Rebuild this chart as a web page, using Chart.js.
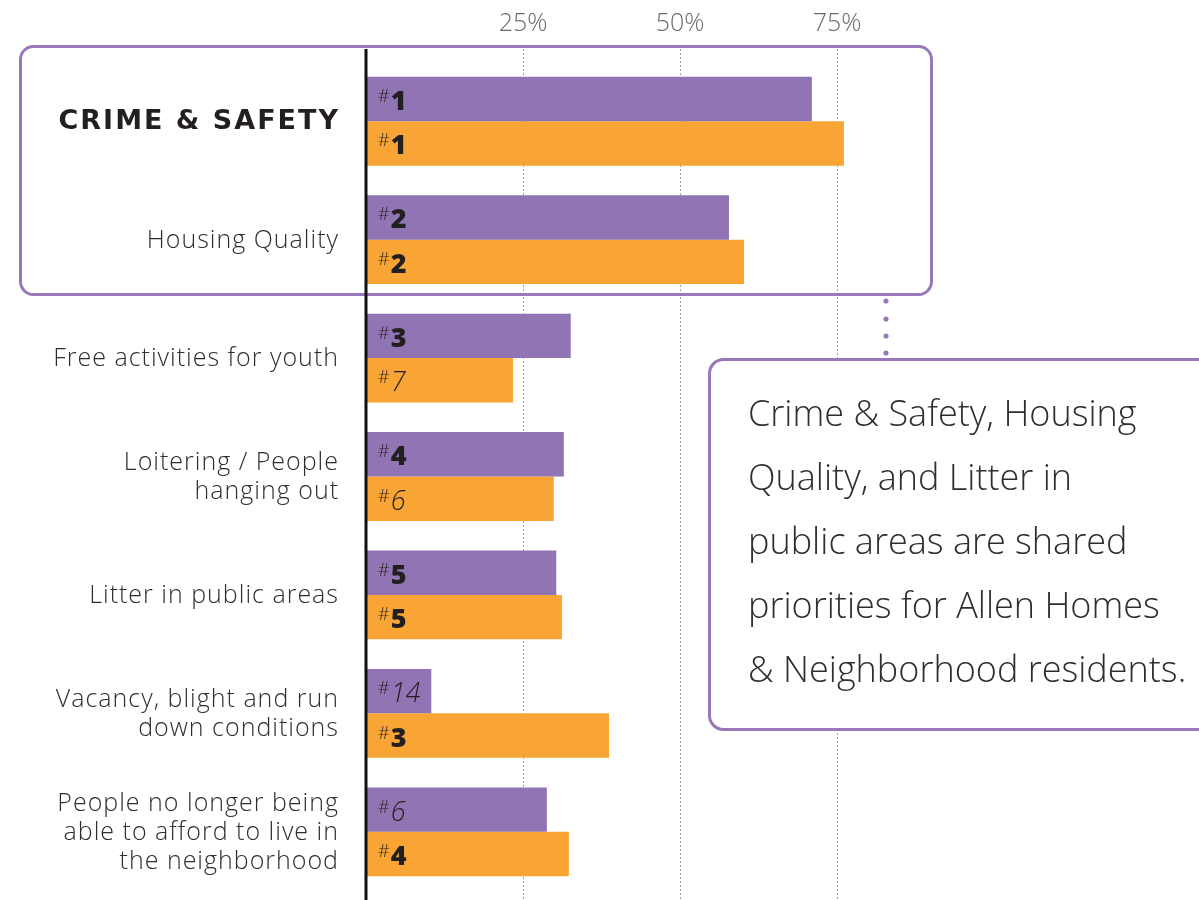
<!DOCTYPE html>
<html>
<head>
<meta charset="utf-8">
<script src="https://cdn.jsdelivr.net/npm/chart.js@4"></script>
<style>
  body { margin: 0; background: #fff; }
  #wrap { width: 1199px; height: 900px; }
</style>
</head>
<body>
<div id="wrap"><canvas id="priorityChart" width="1199" height="900"></canvas></div>
<script>
// Data
const categories = [
  'CRIME & SAFETY',
  'Housing Quality',
  'Free activities for youth',
  ['Loitering / People', 'hanging out'],
  'Litter in public areas',
  ['Vacancy, blight and run', 'down conditions'],
  ['People no longer being', 'able to afford to live in', 'the neighborhood']
];
const allenHomesPct = [71.0, 57.8, 32.6, 31.5, 30.3, 10.4, 28.8];
const neighborhoodPct = [76.1, 60.2, 23.4, 29.9, 31.2, 38.7, 32.3];
const allenHomesRank = [1, 2, 3, 4, 5, 14, 6];
const neighborhoodRank = [1, 2, 7, 6, 5, 3, 4];
const tickValues = [25, 50, 75];
const calloutLines = [
  'Crime & Safety, Housing',
  'Quality, and Litter in',
  'public areas are shared',
  'priorities for Allen Homes',
  '& Neighborhood residents.'
];

const PURPLE = '#9174b3';
const ORANGE = '#f9a535';
const BOX = '#9878b9';
const FONT = '"Open Sans", "DejaVu Sans", sans-serif';
const HEAD = '"DejaVu Sans", sans-serif';

function roundBox(ctx, x, y, w, h, r) {
  ctx.beginPath();
  ctx.moveTo(x + r, y);
  ctx.lineTo(x + w - r, y);
  ctx.arcTo(x + w, y, x + w, y + r, r);
  ctx.lineTo(x + w, y + h - r);
  ctx.arcTo(x + w, y + h, x + w - r, y + h, r);
  ctx.lineTo(x + r, y + h);
  ctx.arcTo(x, y + h, x, y + h - r, r);
  ctx.lineTo(x, y + r);
  ctx.arcTo(x, y, x + r, y, r);
  ctx.closePath();
}

const ranks = [allenHomesRank, neighborhoodRank];

const overlay = {
  id: 'overlay',
  beforeDatasetsDraw(chart) {
    const { ctx, scales: { x } } = chart;
    ctx.save();
    // dotted grid lines
    ctx.strokeStyle = '#a0a0a0';
    ctx.lineWidth = 1;
    ctx.setLineDash([2, 2]);
    tickValues.forEach(v => {
      const px = Math.round(x.getPixelForValue(v)) + 0.5;
      ctx.beginPath();
      ctx.moveTo(px, 49);
      ctx.lineTo(px, 900);
      ctx.stroke();
    });
    ctx.setLineDash([]);
    // highlight box round the top two rows
    ctx.strokeStyle = BOX;
    ctx.lineWidth = 3;
    roundBox(ctx, 20.5, 46.5, 911, 248, 13);
    ctx.stroke();
    ctx.restore();
  },
  afterDatasetsDraw(chart) {
    const { ctx, scales: { x, y } } = chart;
    ctx.save();
    // y axis line
    const x0 = x.getPixelForValue(0);
    ctx.strokeStyle = '#111';
    ctx.lineWidth = 3;
    ctx.beginPath();
    ctx.moveTo(x0, 49);
    ctx.lineTo(x0, 900);
    ctx.stroke();

    // rank labels inside bars
    ctx.fillStyle = '#231f20';
    ctx.textBaseline = 'alphabetic';
    ctx.textAlign = 'left';
    chart.data.datasets.forEach((ds, di) => {
      chart.getDatasetMeta(di).data.forEach((bar, i) => {
        const r = ranks[di][i];
        const top5 = r <= 5;
        let tx = x0 + 12;
        ctx.font = '300 18px ' + FONT;
        ctx.fillText('#', tx, bar.y + 3);
        tx += ctx.measureText('#').width + 1;
        ctx.font = top5 ? '800 27px ' + FONT : 'italic 300 27px ' + FONT;
        ctx.fillText(String(r), tx, bar.y + 11);
      });
    });

    // category labels
    ctx.textAlign = 'right';
    ctx.textBaseline = 'middle';
    chart.data.labels.forEach((lab, i) => {
      const cy = y.getPixelForTick(i);
      const lines = Array.isArray(lab) ? lab : [lab];
      if (i === 0) {
        ctx.font = 'bold 27px ' + HEAD;
        ctx.fillStyle = '#231f20';
        ctx.letterSpacing = '2px';
        ctx.fillText(lines[0], 340, cy + 1);
        ctx.letterSpacing = '0px';
        return;
      }
      ctx.font = '300 25px ' + FONT;
      ctx.fillStyle = '#2e2e2e';
      ctx.letterSpacing = '1px';
      const lh = 29;
      lines.forEach((t, k) => {
        ctx.fillText(t, 339, cy + 1 + (k - (lines.length - 1) / 2) * lh);
      });
      ctx.letterSpacing = '0px';
    });

    // dotted connector
    ctx.fillStyle = BOX;
    [301, 319, 336, 353].forEach(dy => {
      ctx.beginPath();
      ctx.arc(886, dy, 2.6, 0, Math.PI * 2);
      ctx.fill();
    });

    // callout box
    roundBox(ctx, 709.5, 359.5, 520, 370, 14);
    ctx.fillStyle = '#fff';
    ctx.fill();
    ctx.strokeStyle = BOX;
    ctx.lineWidth = 3;
    ctx.stroke();
    ctx.fillStyle = '#2e2e2e';
    ctx.textAlign = 'left';
    ctx.textBaseline = 'middle';
    ctx.font = '300 36px ' + FONT;
    calloutLines.forEach((t, k) => {
      ctx.fillText(t, 748, 416 + k * 64);
    });
    ctx.restore();
  }
};

const ctx = document.getElementById('priorityChart').getContext('2d');
new Chart(ctx, {
  type: 'bar',
  data: {
    labels: categories,
    datasets: [{
      label: 'Allen Homes residents',
      data: allenHomesPct,
      backgroundColor: PURPLE,
      borderWidth: 0,
      categoryPercentage: 0.75,
      barPercentage: 1.0
    }, {
      label: 'Neighborhood residents',
      data: neighborhoodPct,
      backgroundColor: ORANGE,
      borderWidth: 0,
      categoryPercentage: 0.75,
      barPercentage: 1.0
    }]
  },
  options: {
    indexAxis: 'y',
    responsive: false,
    animation: false,
    layout: { padding: { top: 0, right: 205, bottom: 9, left: 0 } },
    plugins: {
      legend: { display: false },
      tooltip: { enabled: false }
    },
    scales: {
      x: {
        position: 'top',
        min: 0,
        max: 100,
        border: { display: false },
        grid: { display: false, drawTicks: false },
        afterFit: scale => { scale.height = 62; },
        afterBuildTicks: scale => {
          scale.ticks = tickValues.map(v => ({ value: v }));
        },
        ticks: {
          padding: 23,
          color: '#6a6a6a',
          font: { family: FONT, size: 25, weight: 300 },
          callback: v => v + '%'
        }
      },
      y: {
        border: { display: false },
        grid: { display: false },
        ticks: { display: false },
        afterFit: scale => { scale.width = 366; }
      }
    }
  },
  plugins: [overlay]
});
</script>
</body>
</html>
